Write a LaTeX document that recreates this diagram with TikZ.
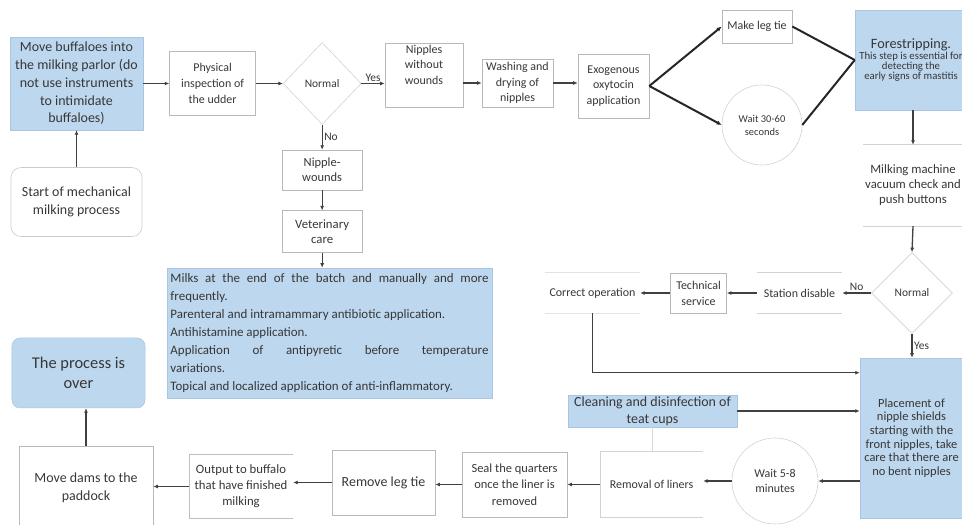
\documentclass[tikz,border=0pt]{standalone}
\usepackage{fontspec}
\setmainfont{Carlito}
\usetikzlibrary{positioning,arrows.meta,shapes.geometric,calc}
\setlength{\parindent}{0pt}
\definecolor{skyfill}{RGB}{189,215,238}
\definecolor{skyedge}{RGB}{168,197,226}
\definecolor{inkgray}{RGB}{55,55,55}
\newcommand{\fsz}[2]{\fontsize{#1}{#2}\selectfont}

\begin{document}
\begin{tikzpicture}[
  x=1bp, y=1bp,
  base/.style={align=center, inner sep=1bp, text=inkgray},
  stage/.style={base, draw=gray!55, line width=0.6bp},
  shaded/.style={base, fill=skyfill, draw=skyedge, line width=0.5bp},
  check/.style={base, diamond, draw=gray!35, line width=0.6bp, inner sep=0pt, font=\fsz{11.5}{14}},
  pause/.style={base, circle, draw=gray!35, line width=0.6bp, inner sep=0pt},
  rail/.style={gray!35, line width=0.6bp},
  flow/.style={-{Latex[length=4.5bp,width=4bp]}, line width=1.3bp, draw=black!75},
  heavy/.style={line width=2bp, draw=black!85},
  heavy flow/.style={heavy, -{Latex[length=5bp,width=4.5bp]}},
  tag/.style={font=\fsz{11.5}{13}, text=inkgray, inner sep=1.5bp}
]
\useasboundingbox (0,0) rectangle (962,525);
\clip (0,0) rectangle (962,525);

% top row
\node[shaded, minimum width=133bp, minimum height=93bp, font=\fsz{14}{17.8}] (move) at (76.5,441.5)
  {Move buffaloes into\\the milking parlor (do\\not use instruments\\to intimidate\\buffaloes)};
\node[stage, draw=gray!40, rounded corners=10bp, minimum width=131bp, minimum height=69bp,
  font=\fsz{14}{18}, below=37bp of move] (start) {Start of mechanical\\milking process};
\node[stage, minimum width=86bp, minimum height=64bp, font=\fsz{12}{15.7}, right=26bp of move] (phys)
  {Physical\\inspection of\\the udder};
\node[check, minimum width=78bp, minimum height=82bp, right=27bp of phys] (norm1) {Normal};
\node[stage, minimum width=78bp, minimum height=64bp, font=\fsz{12}{15.8}] (intact) at (424,450)
  {Nipples\\without\\wounds\\[5bp]};
\node[stage, minimum width=71bp, minimum height=48bp, font=\fsz{12}{15.5}] (wash) at (517.5,442)
  {Washing and\\drying of\\nipples};
\node[stage, minimum width=71bp, minimum height=64bp, font=\fsz{12}{15.5}] (oxy) at (613.5,439)
  {Exogenous\\oxytocin\\application};
\node[stage, minimum width=70bp, minimum height=33bp, font=\fsz{12}{15}] (legtie) at (757,498.5) {Make leg tie};
\node[pause, minimum size=80bp, font=\fsz{10.5}{13}] (wait1) at (762,400) {Wait 30-60\\seconds};
\node[shaded, minimum width=112bp, minimum height=100bp, font=\fsz{10.8}{10}] (fore) at (911,465)
  {{\fsz{14.3}{17}Forestripping.}\\[1bp]This step is essential for\\detecting the\\early signs of mastitis};

% right column
\node[base, minimum width=100bp, minimum height=81bp, font=\fsz{12.8}{15}] (milk) at (913,339.5)
  {Milking machine\\vacuum check and\\push buttons};
\node[check, minimum width=81bp, minimum height=81bp] (norm2) at (912,232) {Normal};
\node[base, minimum width=85bp, minimum height=40bp, font=\fsz{12}{15}, left=29bp of norm2] (halt) {Station disable};
\node[stage, minimum width=56bp, minimum height=40bp, font=\fsz{12}{16}, left=30bp of halt] (tech) {Technical\\service};
\node[base, minimum width=95bp, minimum height=40bp, font=\fsz{12}{15}, left=30bp of tech] (fixed) {Correct operation};
\node[shaded, minimum width=103bp, minimum height=160bp, font=\fsz{12.5}{13.7}] (place) at (911.5,87)
  {Placement of\\nipple shields\\starting with the\\front nipples, take\\care that there are\\no bent nipples};
\node[shaded, minimum width=169bp, minimum height=32bp, inner sep=0pt, font=\fsz{14}{17}] (clean) at (652.5,114)
  {Cleaning and disinfection of\\teat cups};

% bottom row
\node[pause, minimum size=86bp, font=\fsz{12}{15}] (wait2) at (775,44) {Wait 5-8\\minutes};
\node[base, minimum width=103bp, minimum height=65bp, font=\fsz{12}{15}] (liners) at (651.5,40.5) {Removal of liners};
\node[stage, minimum width=105bp, minimum height=65bp, font=\fsz{12.5}{16.5}] (seal) at (514.5,40.5)
  {Seal the quarters\\once the liner is\\removed};
\node[stage, minimum width=103bp, minimum height=65bp, font=\fsz{14}{17}] (untie) at (383.5,42.5) {Remove leg tie};
\node[base, minimum width=104bp, minimum height=63bp, font=\fsz{12.8}{16}] (release) at (241,38.5)
  {Output to buffalo\\that have finished\\milking};
\node[stage, minimum width=134bp, minimum height=83bp, font=\fsz{14}{18}] (dams) at (86,37) {Move dams to the\\paddock};
\node[shaded, rounded corners=8bp, minimum width=133bp, minimum height=70bp, font=\fsz{16.5}{20.5}] (over) at (78.5,152)
  {The process is\\over};

% treatment branch
\node[stage, minimum width=80bp, minimum height=40bp, font=\fsz{12.5}{15}, below=25bp of norm1] (wound) {Nipple-\\wounds};
\node[stage, minimum width=80bp, minimum height=42bp, font=\fsz{12.8}{15}, below=20bp of wound] (vet) {Veterinary\\care};
\node[shaded, text width=318bp, align=justify, inner xsep=3.5bp, minimum height=130bp, font=\fsz{13}{18}] (treat) at (329.5,192)
  {\hyphenpenalty=10000 Milks at the end of the batch and manually and more\linebreak frequently.\par
   Parenteral and intramammary antibiotic application.\par
   Antihistamine application.\par
   Application of antipyretic before temperature\linebreak variations.\par
   Topical and localized application of anti-inflammatory.};

% open-sided boxes
\draw[rail] (milk.north west) -- (milk.north east) (milk.south west) -- (milk.south east);
\draw[rail] (halt.north west) -- (halt.north east) (halt.south west) -- (halt.south east);
\draw[rail, gray!22] (fixed.north west) -- (fixed.north east) (fixed.south west) -- (fixed.south east);
\draw[rail] (liners.north east) -- (liners.north west) -- (liners.south west) -- (liners.south east);
\draw[rail, gray!50] (release.north east) -- (release.north west) -- (release.south west) -- (release.south east);

% connectors
\draw[flow] (start.north) -- (start.north |- move.south);
\draw[flow] (move) -- (phys);
\draw[flow] (phys) -- (norm1);
\draw[flow] (norm1.east) -- node[tag, above] {Yes} (norm1.east -| intact.west);
\draw[flow] (wash.west -| intact.east) -- (wash.west);
\draw[flow] (wash.east) -- (wash.east -| oxy.west);
\draw[heavy flow] (oxy.east) -- (legtie.west);
\draw[heavy flow] (oxy.east) -- (wait1.west);
\draw[heavy] (legtie.east) -- (fore.west);
\draw[heavy] (wait1.east) -- (fore.west);
\draw[flow] (milk.north |- fore.south) -- (milk.north);
\draw[flow] (milk.south) -- (norm2.north);
\draw[flow] (norm2.west) -- node[tag, above] {No} (halt.east);
\draw[flow] (halt) -- (tech);
\draw[flow] (tech) -- (fixed);
\draw[flow] (fixed.south) |- ([yshift=-15bp]place.north west);
\draw[flow] (norm2.south) -- node[tag, right] {Yes} (norm2.south |- place.north);
\draw[flow] (clean.east) -- (clean.east -| place.west);
\draw[rail, gray!30] (clean.south) -- (clean.south |- liners.north);
\draw[flow] (place.west |- wait2.east) -- (wait2.east);
\draw[flow] (wait2.west) -- (wait2.west -| liners.east);
\draw[flow] (liners.west) -- (liners.west -| seal.east);
\draw[flow] (seal.west) -- (seal.west -| untie.east);
\draw[flow] (untie.west) -- (untie.west -| release.east);
\draw[flow] (release.west) -- (release.west -| dams.east);
\draw[flow] (dams.north) -- (dams.north |- over.south);
\draw[flow] (norm1.south) -- node[tag, right] {No} (wound.north);
\draw[flow] (wound) -- (vet);
\draw[flow] (vet.south) -- (vet.south |- treat.north);
\end{tikzpicture}
\end{document}
